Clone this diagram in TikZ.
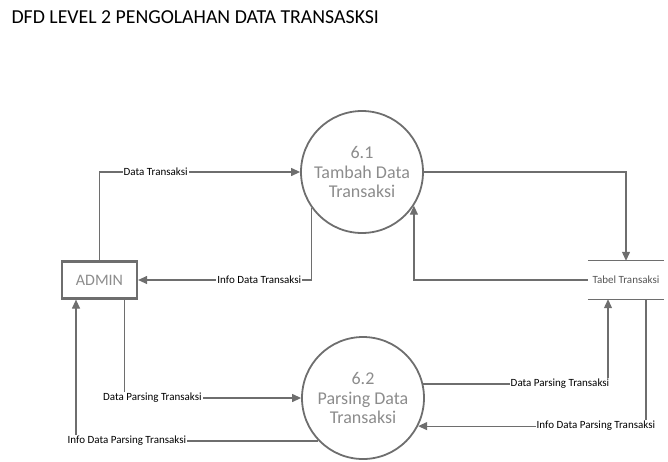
\documentclass[tikz,border=0pt]{standalone}
\usepackage{fontspec}
\setmainfont{Carlito}
\usetikzlibrary{arrows.meta}
\definecolor{linegray}{HTML}{6E6E6E}
\definecolor{textgray}{HTML}{8C8C8C}
\definecolor{storegray}{HTML}{555555}
\begin{document}
\begin{tikzpicture}[x=1pt, y=-1pt,
    process/.style={circle, draw=linegray, line width=1.8pt, minimum size=122pt, inner sep=0pt, align=center, text=textgray, font=\fontsize{18}{19.5}\selectfont},
    entity/.style={rectangle, draw=linegray, line width=2.2pt, minimum width=75pt, minimum height=37pt, text=textgray, font=\fontsize{16}{18}\selectfont},
    store/.style={rectangle, minimum width=76pt, minimum height=38pt, inner sep=0pt, text=storegray, font=\fontsize{11}{12}\selectfont},
    arrow/.style={-{Triangle[length=9pt,width=8pt]}, draw=linegray, line width=1.2pt},
    flowlabel/.style={fill=white, inner sep=1pt, text=black, font=\fontsize{11}{12}\selectfont}
]
\useasboundingbox (0,0) rectangle (668,461);
\node[anchor=west, font=\fontsize{19.8}{22}\selectfont] (title) at (8,17) {DFD LEVEL 2 PENGOLAHAN DATA TRANSASKSI};

\node[entity] (admin) at (99.5,280) {ADMIN};
\node[process] (p61) at (362,172) {6.1\\Tambah Data\\Transaksi};
\node[process] (p62) at (363,398) {6.2\\Parsing Data\\Transaksi};
\node[store] (tabel) at (626,280) {Tabel Transaksi};
\draw[linegray, line width=1.2pt] (tabel.north west) -- (tabel.north east);
\draw[linegray, line width=1.2pt] (tabel.south west) -- (tabel.south east);

\draw[arrow] (admin.north) |- node[flowlabel, pos=0.64] {Data Transaksi} (p61.west);
\draw[arrow] (p61.-145) |- node[flowlabel, pos=0.65] {Info Data Transaksi} (admin.east);
\draw[arrow] (p61.east) -| (tabel.north);
\draw[arrow] (tabel.west) -| (p61.-33);
\draw[arrow] ([xshift=-14pt]admin.south east) |- node[flowlabel, pos=0.58] {Data Parsing Transaksi} (p62.west);
\draw[arrow] (p62.-136) -| node[flowlabel, pos=0.395] {Info Data Parsing Transaksi} ([xshift=-23.5pt]admin.south);
\draw[arrow] (p62.13) -| node[flowlabel, pos=0.37] {Data Parsing Transaksi} ([xshift=-18pt]tabel.south);
\draw[arrow] ([xshift=20pt]tabel.south) |- node[flowlabel, pos=0.61] {Info Data Parsing Transaksi} (p62.-27);
\end{tikzpicture}
\end{document}
